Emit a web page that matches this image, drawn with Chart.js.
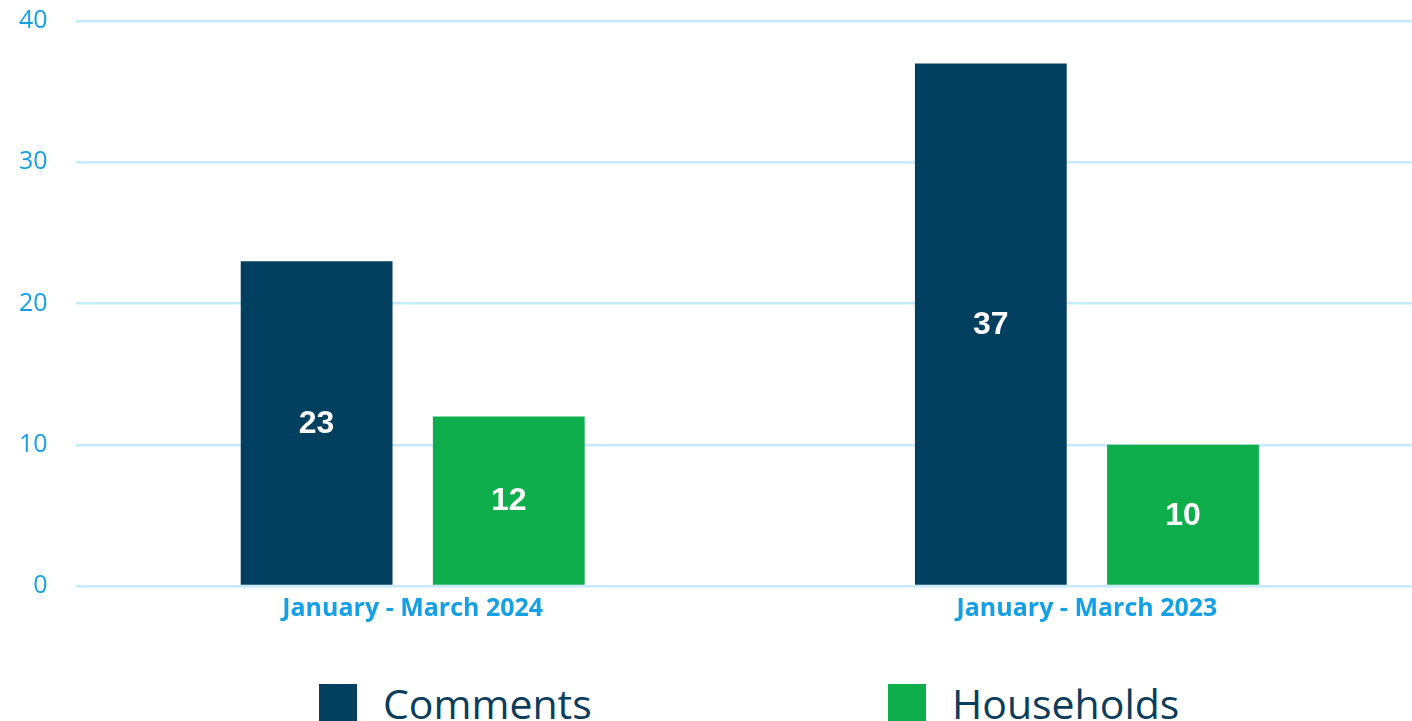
<!DOCTYPE html>
<html>
<head>
<meta charset="utf-8">
<script src="https://cdn.jsdelivr.net/npm/chart.js@4"></script>
<style>
  html, body { margin: 0; padding: 0; background: #fff; overflow: hidden; width: 1412px; height: 721px; }
  #wrap { position: absolute; left: -19px; top: -22px; width: 1443px; height: 654px; }
  .leg { position: absolute; top: 675px; display: flex; align-items: center; font-family: "Open Sans", sans-serif; font-size: 41px; color: #0b3d5c; }
  .leg span.box { display: inline-block; width: 38px; height: 38px; margin-right: 26px; }
</style>
</head>
<body>
<div id="wrap"><canvas id="grafico"></canvas></div>
<div class="leg" style="left:319px"><span class="box" style="background:#033f5f"></span>Comments</div>
<div class="leg" style="left:888px"><span class="box" style="background:#0dae4b"></span>Households</div>
<script>
// dados do gráfico
const categorias = ["January - March 2024", "January - March 2023"];
const comentarios = [23, 37];
const domicilios = [12, 10];
const nomesSeries = ["Comments", "Households"];
const ticksY = [0, 10, 20, 30, 40];

const COR_AZUL = "#15a0e6";

// rótulos brancos dentro das barras
const rotulos = {
  id: "rotulos",
  afterDatasetsDraw(chart) {
    const ctx = chart.ctx;
    ctx.save();
    ctx.fillStyle = "#ffffff";
    ctx.font = "bold 32px 'Liberation Sans', Arial, sans-serif";
    ctx.textAlign = "center";
    ctx.textBaseline = "middle";
    chart.data.datasets.forEach((ds, i) => {
      chart.getDatasetMeta(i).data.forEach((bar, j) => {
        const meio = (bar.y + bar.base) / 2 + 1;
        ctx.fillText(String(ds.data[j]), bar.x, meio);
      });
    });
    ctx.restore();
  }
};

const ctx = document.getElementById("grafico").getContext("2d");
new Chart(ctx, {
  type: "bar",
  data: {
    labels: categorias,
    datasets: [{
      label: nomesSeries[0],
      data: comentarios,
      backgroundColor: "#033f5f",
      categoryPercentage: 0.57,
      barPercentage: 0.79
    }, {
      label: nomesSeries[1],
      data: domicilios,
      backgroundColor: "#0dae4b",
      categoryPercentage: 0.57,
      barPercentage: 0.79
    }]
  },
  options: {
    responsive: true,
    maintainAspectRatio: false,
    animation: false,
    layout: { padding: { top: 9, left: 10, right: 0, bottom: 0 } },
    plugins: {
      legend: { display: false },
      tooltip: { enabled: false }
    },
    scales: {
      x: {
        grid: { display: false, drawTicks: false },
        border: { display: false },
        ticks: {
          color: COR_AZUL,
          padding: 8,
          font: { family: "'Open Sans', sans-serif", size: 25, weight: "bold" }
        }
      },
      y: {
        min: 0,
        max: 40,
        afterBuildTicks: axis => { axis.ticks = ticksY.map(v => ({ value: v })); },
        grid: { color: "#c6eafb", lineWidth: 2.5, drawTicks: false },
        border: { display: false },
        ticks: {
          color: COR_AZUL,
          padding: 28,
          font: { family: "'Open Sans', sans-serif", size: 25 }
        }
      }
    }
  },
  plugins: [rotulos]
});
</script>
</body>
</html>
